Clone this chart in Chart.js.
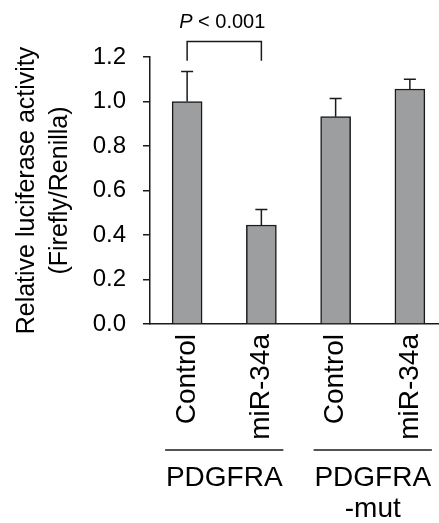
<!DOCTYPE html>
<html>
<head>
<meta charset="utf-8">
<script src="https://cdn.jsdelivr.net/npm/chart.js@4/dist/chart.umd.min.js"></script>
<style>
  html, body { margin: 0; padding: 0; background: #fff; overflow: hidden; }
  #wrap { position: relative; width: 460px; height: 523px; }
</style>
</head>
<body>
<div id="wrap"><canvas id="chart"></canvas></div>
<script>
const categories = ['Control', 'miR-34a', 'Control', 'miR-34a'];
const means = [1.00, 0.445, 0.932, 1.056];
const errUpper = [0.135, 0.07, 0.082, 0.044];
const groupNames = [['PDGFRA'], ['PDGFRA', '-mut']];
const groupSpans = [[0, 1], [2, 3]];
const yTicks = [0, 0.2, 0.4, 0.6, 0.8, 1.0, 1.2];
const pText = ['P', ' < 0.001'];

const FONT = "'Liberation Sans', Arial, Helvetica, sans-serif";
const INK = '#1a1a1a';

// upper error bars
const errorBars = {
  id: 'errorBars',
  afterDatasetsDraw(chart) {
    const { ctx, scales: { y } } = chart;
    const meta = chart.getDatasetMeta(0);
    ctx.save();
    ctx.strokeStyle = INK;
    ctx.lineWidth = 1.5;
    meta.data.forEach((bar, i) => {
      const top = y.getPixelForValue(means[i] + errUpper[i]);
      ctx.beginPath();
      ctx.moveTo(bar.x, bar.y);
      ctx.lineTo(bar.x, top);
      ctx.moveTo(bar.x - 6, top);
      ctx.lineTo(bar.x + 6, top);
      ctx.stroke();
    });
    ctx.restore();
  }
};

// significance bracket + group labels under the axis
const annotations = {
  id: 'annotations',
  afterDraw(chart) {
    const { ctx, chartArea, scales: { x, y } } = chart;
    ctx.save();
    ctx.strokeStyle = INK;
    ctx.fillStyle = '#000';
    ctx.lineWidth = 1.5;

    const x0 = x.getPixelForValue(0), x1 = x.getPixelForValue(1);
    const yb = y.getPixelForValue(1.27), yl = y.getPixelForValue(1.183);
    ctx.beginPath();
    ctx.moveTo(x0, yl); ctx.lineTo(x0, yb); ctx.lineTo(x1, yb); ctx.lineTo(x1, yl);
    ctx.stroke();

    ctx.textBaseline = 'alphabetic';
    ctx.textAlign = 'left';
    ctx.font = 'italic 20px ' + FONT;
    const w1 = ctx.measureText(pText[0]).width;
    ctx.font = '20px ' + FONT;
    const w2 = ctx.measureText(pText[1]).width;
    let tx = (x0 + x1) / 2 - 2 - (w1 + w2) / 2;
    const ty = y.getPixelForValue(1.332);
    ctx.font = 'italic 20px ' + FONT;
    ctx.fillText(pText[0], tx, ty);
    ctx.font = '20px ' + FONT;
    ctx.fillText(pText[1], tx + w1, ty);

    ctx.textAlign = 'center';
    ctx.font = '28px ' + FONT;
    groupSpans.forEach((span, g) => {
      const a = x.getPixelForValue(span[0]) - 22;
      const b = x.getPixelForValue(span[1]) + 22;
      const ly = chartArea.bottom + 126;
      ctx.beginPath();
      ctx.moveTo(a, ly); ctx.lineTo(b, ly);
      ctx.stroke();
      groupNames[g].forEach((line, k) => {
        ctx.fillText(line, (a + b) / 2, chartArea.bottom + 162 + k * 31);
      });
    });
    ctx.restore();
  }
};

new Chart(document.getElementById('chart'), {
  type: 'bar',
  data: {
    labels: categories,
    datasets: [{
      data: means,
      backgroundColor: '#9c9ea0',
      borderColor: INK,
      borderWidth: 1.5,
      barThickness: 30
    }]
  },
  options: {
    responsive: true,
    maintainAspectRatio: false,
    animation: false,
    devicePixelRatio: 1,
    layout: { padding: { top: 57, right: 13, left: 0, bottom: 0 } },
    plugins: { legend: { display: false }, tooltip: { enabled: false } },
    scales: {
      x: {
        grid: { display: false, drawTicks: false },
        border: { display: true, color: INK, width: 1.5 },
        ticks: {
          color: '#000',
          font: { family: FONT, size: 28 },
          minRotation: 90,
          maxRotation: 90,
          autoSkip: false,
          padding: 10
        },
        afterFit(scale) { scale.height = 199; }
      },
      y: {
        min: 0,
        max: 1.2,
        afterBuildTicks(scale) { scale.ticks = yTicks.map(v => ({ value: v })); },
        grid: { drawOnChartArea: false, drawTicks: true, tickLength: 7, color: INK, lineWidth: 1.5 },
        border: { display: true, color: INK, width: 1.5 },
        ticks: {
          color: '#000',
          font: { family: FONT, size: 24 },
          padding: 17,
          callback: v => Number(v).toFixed(1)
        },
        title: {
          display: true,
          text: ['Relative luciferase activity', '(Firefly/Renilla)'],
          color: '#000',
          font: { family: FONT, size: 25, lineHeight: 1.3 },
          padding: { top: 11, bottom: 0 }
        },
        afterFit(scale) { scale.width = 150; }
      }
    }
  },
  plugins: [errorBars, annotations]
});
</script>
</body>
</html>
